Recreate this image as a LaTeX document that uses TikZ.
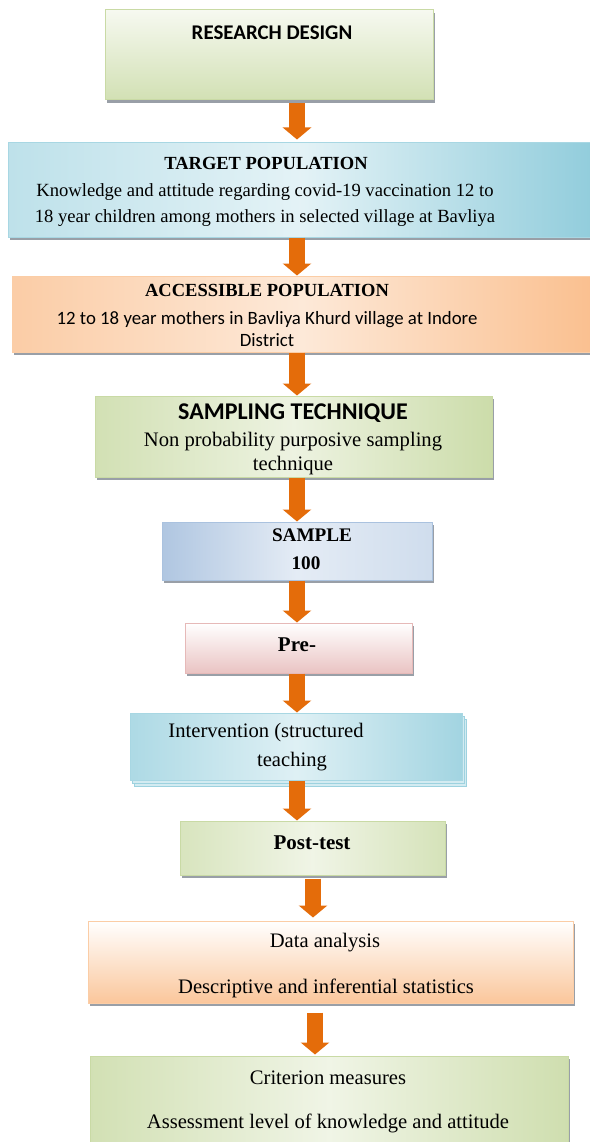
\documentclass[tikz,border=0pt]{standalone}
\usepackage{fontspec}
\setmainfont{Liberation Serif}
\newfontfamily\calibri{Carlito}
\usetikzlibrary{arrows.meta, shadows}

\definecolor{arrorange}{HTML}{E46C0A}
\definecolor{grn}{HTML}{C3D69B}
\definecolor{blu}{HTML}{92CDDC}
\definecolor{pch}{HTML}{FAC090}
\definecolor{pnk}{HTML}{E6B9B8}
\definecolor{sky}{HTML}{95B3D7}
\definecolor{shade}{HTML}{6E7682}

\begin{document}
\begin{tikzpicture}[x=1pt, y=-1pt,
    box/.style={draw, line width=1pt, inner sep=0pt,
        drop shadow={shadow xshift=2pt, shadow yshift=-3pt, fill=shade, opacity=0.7}},
    txt/.style={inner sep=0pt, align=center, font=\fontsize{20.6}{25}\selectfont},
    hdserif/.style={inner sep=0pt, font=\bfseries\fontsize{18.5}{22}\selectfont},
    hdsans/.style={inner sep=0pt, font=\calibri\bfseries\fontsize{24}{28}\selectfont},
    fatarrow/.style={draw=arrorange, line width=16pt, -{Triangle[width=28pt, length=12pt]}}]

    \useasboundingbox (0,0) rectangle (589,1142);

    % boxes
    \node[box, draw=grn!90, top color=grn!15, bottom color=grn!75,
        minimum width=328pt, minimum height=90pt] (b1) at (269,55) {};
    \node[box, draw=blu!80, left color=blu!60, right color=blu, middle color=blu!25,
        minimum width=584pt, minimum height=94pt] (b2) at (300,190) {};
    \node[box, draw=pch!80, left color=pch!80, right color=pch, middle color=pch!35,
        minimum width=580pt, minimum height=76pt] (b3) at (302,314) {};
    \node[box, draw=grn!90, left color=grn!75, right color=grn!85, middle color=grn!30,
        minimum width=397pt, minimum height=81pt] (b4) at (293.5,436.5) {};
    \node[box, draw=sky!80, left color=sky!75, right color=sky!45, middle color=sky!25,
        minimum width=270pt, minimum height=58pt] (b5) at (297,551) {};
    \node[box, draw=pnk, top color=white, bottom color=pnk!85,
        minimum width=227pt, minimum height=50pt] (b6) at (298.5,648) {};
    \node[box, draw=blu!80, left color=blu!75, right color=blu!85, middle color=blu!30,
        double copy shadow={shadow xshift=2pt, shadow yshift=-3pt, draw=blu!90, fill=blu!40},
        minimum width=332pt, minimum height=67pt] (b7) at (296,746.5) {};
    \node[box, draw=grn!90, left color=grn!65, right color=grn!70, middle color=grn!25,
        minimum width=265pt, minimum height=54pt] (b8) at (312.5,848) {};
    \node[box, draw=pch!80, top color=white, bottom color=pch!90,
        minimum width=485pt, minimum height=82pt] (b9) at (330.5,962) {};
    \node[box, draw=grn!90, left color=grn!75, right color=grn!80, middle color=grn!25,
        minimum width=478pt, minimum height=94pt] (b10) at (329,1103) {};

    % texts
    \node[hdsans, font=\calibri\bfseries\fontsize{20.9}{24}\selectfont] (t1) at (272,33) {RESEARCH DESIGN};
    \node[hdserif] (t2a) at (266,163) {TARGET POPULATION};
    \node[txt, font=\fontsize{18.6}{26}\selectfont] (t2b) at (265,205) {Knowledge and attitude regarding covid-19 vaccination 12 to\\
        18 year children among mothers in selected village at Bavliya};
    \node[hdserif] (t3a) at (267,290) {ACCESSIBLE POPULATION};
    \node[txt, font=\calibri\fontsize{18.8}{22}\selectfont] (t3b) at (267,329) {12 to 18 year mothers in Bavliya Khurd village at Indore\\District};
    \node[hdsans] (t4a) at (293,413) {SAMPLING TECHNIQUE};
    \node[txt, font=\fontsize{20.6}{24}\selectfont] (t4b) at (293,454) {Non probability purposive sampling\\technique};
    \node[hdserif, font=\bfseries\fontsize{19.2}{22}\selectfont] (t5a) at (312,535) {SAMPLE};
    \node[hdserif, font=\bfseries\fontsize{19.2}{22}\selectfont] (t5b) at (306,563) {100};
    \node[hdserif, font=\bfseries\fontsize{21}{24}\selectfont] (t6) at (297,645) {Pre-};
    \node[txt] (t7a) at (266,733) {Intervention (structured};
    \node[txt] (t7b) at (292,762) {teaching};
    \node[hdserif, font=\bfseries\fontsize{21}{24}\selectfont] (t8) at (312,843) {Post-test};
    \node[txt] (t9a) at (325,943) {Data analysis};
    \node[txt] (t9b) at (326,988) {Descriptive and inferential statistics};
    \node[txt] (t10a) at (328,1078) {Criterion measures};
    \node[txt] (t10b) at (328,1123) {Assessment level of knowledge and attitude};

    % arrows
    \coordinate (ax) at (297,0);
    \coordinate (bx) at (313,0);
    \coordinate (cx) at (315,0);
    \draw[fatarrow, shorten <=3pt, shorten >=3pt] (b1.south -| ax) -- (b2.north -| ax);
    \draw[fatarrow] (b2.south -| ax) -- (b3.north -| ax);
    \draw[fatarrow] (b3.south -| ax) -- (b4.north -| ax);
    \draw[fatarrow] (b4.south -| ax) -- (b5.north -| ax);
    \draw[fatarrow] (b5.south -| ax) -- (b6.north -| ax);
    \draw[fatarrow] (b6.south -| ax) -- (b7.north -| ax);
    \draw[fatarrow] (b7.south -| ax) -- (b8.north -| ax);
    \draw[fatarrow, shorten <=3pt, shorten >=3pt] (b8.south -| bx) -- (b9.north -| bx);
    \draw[fatarrow, shorten <=9pt, shorten >=1pt] (b9.south -| cx) -- (b10.north -| cx);
\end{tikzpicture}
\end{document}
